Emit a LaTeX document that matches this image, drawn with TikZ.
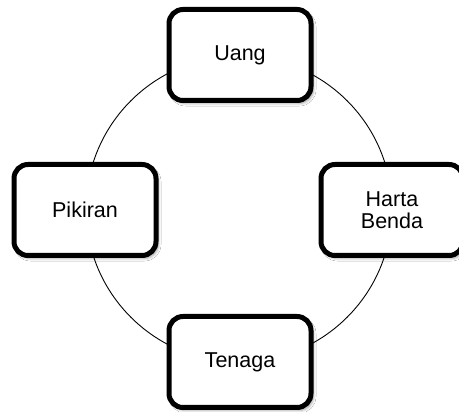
\documentclass[tikz,border=0pt]{standalone}
\usepackage{fontspec}
\setmainfont{Liberation Sans}
\usetikzlibrary{shadows.blur}
\begin{document}
\begin{tikzpicture}[x=1pt,y=-1pt,
  item/.style={draw=black, line width=5pt, fill=white, rounded corners=14pt,
    minimum width=142pt, minimum height=91pt, inner sep=0pt, align=center,
    font=\fontsize{21.5}{22}\selectfont,
    blur shadow={shadow xshift=2.5pt, shadow yshift=-3pt, shadow blur radius=2.5pt, shadow opacity=35}},
  ring/.style={draw=black, line width=0.9pt}]
  \useasboundingbox (0,0) rectangle (459,412);
  \clip (0,0) rectangle (459,412);
  \fill[white] (0,0) rectangle (459,412);
  % ring joining the four items
  \coordinate (c) at (239,209);
  \draw[ring] (c) circle[radius=153pt];
  % the four items around the ring
  \node[item] (uang) at (240,55) {Uang};
  \node[item] (pikiran) at (85,210) {Pikiran};
  \node[item] (harta) at (392,210) {Harta\\Benda};
  \node[item] (tenaga) at (240,362) {Tenaga};
\end{tikzpicture}
\end{document}
